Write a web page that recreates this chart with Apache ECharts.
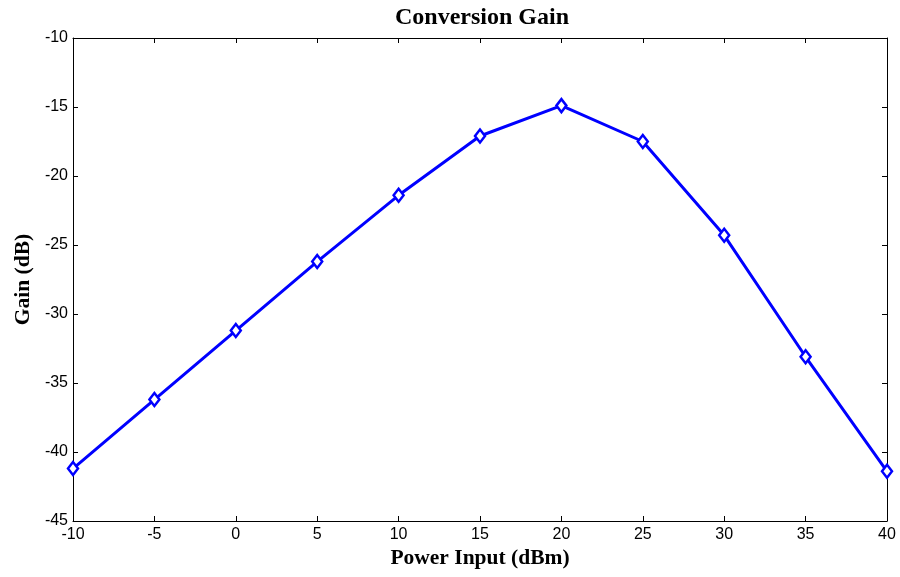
<!DOCTYPE html>
<html><head><meta charset="utf-8">
<script src="https://cdn.jsdelivr.net/npm/echarts@6/dist/echarts.min.js"></script>
<style>html,body{margin:0;padding:0;background:#fff}#c{width:900px;height:577px}</style>
</head><body><div id="c"></div>
<script>
const powerInput = [-10, -5, 0, 5, 10, 15, 20, 25, 30, 35, 40];
const gain = [-41.2, -36.2, -31.2, -26.2, -21.4, -17.1, -14.9, -17.5, -24.3, -33.1, -41.4];
const chart = echarts.init(document.getElementById('c'));
const tickStyle = {show: true, inside: true, length: 5, lineStyle: {color: '#000', width: 1}};
const lineStyle = {show: true, onZero: false, lineStyle: {color: '#000', width: 1}};
const nameFont = {fontFamily: 'Liberation Serif', fontWeight: 'bold', fontSize: 21.5, color: '#000'};
const labelFont = {fontFamily: 'Liberation Sans', fontSize: 16, color: '#000'};
chart.setOption({
  animation: false,
  title: {text: 'Conversion Gain', left: 477, top: 1, textAlign: 'center',
    textStyle: {fontFamily: 'Liberation Serif', fontWeight: 'bold', fontSize: 24, color: '#000'}},
  grid: {left: 73, right: 13, top: 38, bottom: 56},
  xAxis: [{type: 'value', min: -10, max: 40, interval: 5, position: 'bottom',
    name: 'Power Input (dBm)', nameLocation: 'middle', nameGap: 26, nameTextStyle: nameFont,
    axisLine: lineStyle, axisTick: tickStyle, splitLine: {show: false},
    axisLabel: Object.assign({margin: 6}, labelFont)},
    {type: 'value', min: -10, max: 40, interval: 5, position: 'top',
    axisLine: lineStyle, axisTick: tickStyle, splitLine: {show: false}, axisLabel: {show: false}}],
  yAxis: [{type: 'value', min: -45, max: -10, interval: 5, position: 'left',
    name: 'Gain (dB)', nameLocation: 'middle', nameGap: 36, nameTextStyle: nameFont,
    axisLine: lineStyle, axisTick: tickStyle, splitLine: {show: false},
    axisLabel: Object.assign({margin: 5}, labelFont)},
    {type: 'value', min: -45, max: -10, interval: 5, position: 'right',
    axisLine: lineStyle, axisTick: tickStyle, splitLine: {show: false}, axisLabel: {show: false}}],
  series: [{type: 'line', data: powerInput.map((x, i) => [x, gain[i]]),
    lineStyle: {color: '#0000ff', width: 3}, symbol: 'diamond', symbolSize: [10, 13],
    itemStyle: {color: '#fff', borderColor: '#0000ff', borderWidth: 2.5},
    clip: false}]
});
</script></body></html>
